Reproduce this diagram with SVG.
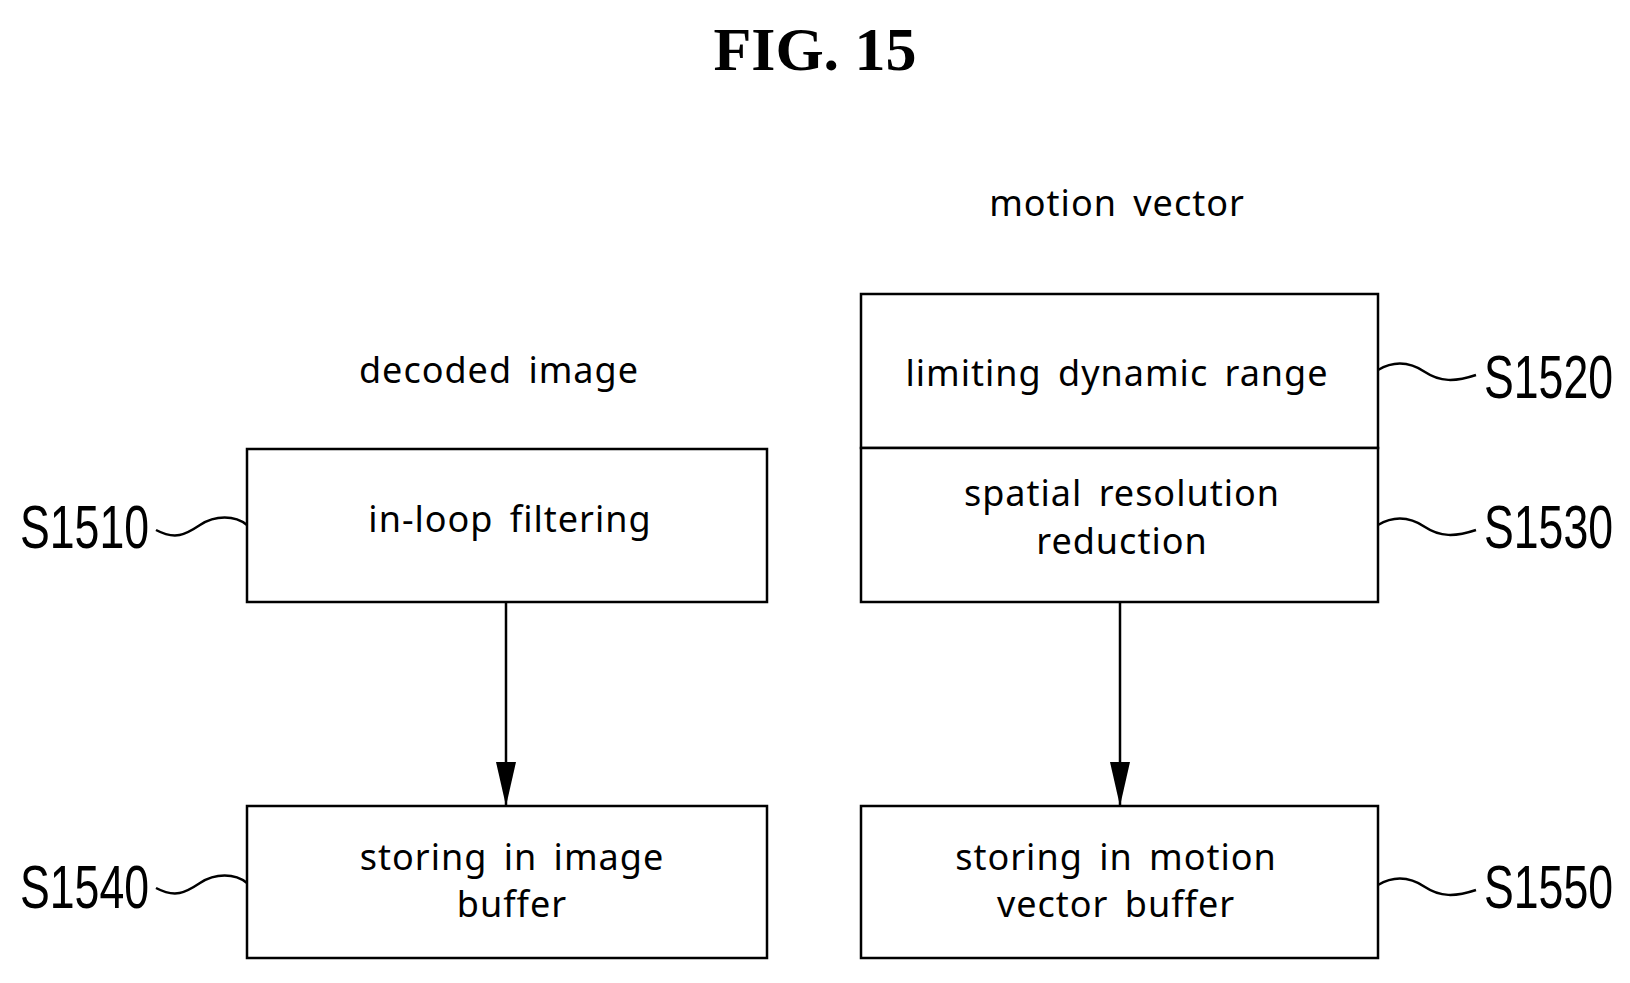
<svg xmlns="http://www.w3.org/2000/svg" width="1630" height="983" viewBox="0 0 1630 983">
<defs>
<style>
.box{fill:#fff;stroke:#000;stroke-width:2.5}
.t{font-family:"Noto Sans","DejaVu Sans",sans-serif;font-size:36px;text-anchor:middle;fill:#000;letter-spacing:1px;word-spacing:6px}
.lab{font-family:"Liberation Sans",Arial,sans-serif;font-size:62px;fill:#000}
.sq{fill:none;stroke:#000;stroke-width:2.5}
.c{stroke:#000;stroke-width:2.5;fill:none}
</style>
<marker id="ah" viewBox="0 0 20 40" refX="10" refY="40" markerWidth="20" markerHeight="40" markerUnits="userSpaceOnUse" orient="auto-start-reverse">
<path d="M0,0 L20,0 L10,40 Z" fill="#000"/>
</marker>
</defs>
<rect width="1630" height="983" fill="#fff"/>
<text x="815" y="70" font-family="Liberation Serif,serif" font-weight="bold" font-size="62" text-anchor="middle">FIG. 15</text>
<text class="t" x="1117" y="216">motion vector</text>
<text class="t" x="499" y="383">decoded image</text>
<g id="connectors">
<path class="c" d="M506,602 V806" transform="translate(0,0)"/>
<path d="M496,762 L516,762 L506,806 Z"/>
<path class="c" d="M1120,602 V806"/>
<path d="M1110,762 L1130,762 L1120,806 Z"/>
</g>
<g id="s1510">
<rect class="box" x="247" y="449" width="520" height="153"/>
<text class="t" x="510" y="532">in-loop filtering</text>
<text class="lab" transform="translate(20,548) scale(0.72,1)">S1510</text>
<path class="sq" d="M156,530 C175,540 185,535 200,525 C215,515 235,515 247,525"/>
</g>
<g id="s1520">
<rect class="box" x="861" y="294" width="517" height="154"/>
<text class="t" x="1117" y="386">limiting dynamic range</text>
<text class="lab" transform="translate(1484,398) scale(0.72,1)">S1520</text>
<path class="sq" d="M1378,370 C1395,360 1410,362 1425,372 C1440,382 1455,382 1476,375"/>
</g>
<g id="s1530">
<rect class="box" x="861" y="448" width="517" height="154"/>
<text class="t" x="1122" y="506">spatial resolution</text>
<text class="t" x="1122" y="554">reduction</text>
<text class="lab" transform="translate(1484,548) scale(0.72,1)">S1530</text>
<path class="sq" d="M1378,525 C1395,515 1410,517 1425,527 C1440,537 1455,537 1476,530"/>
</g>
<g id="s1540">
<rect class="box" x="247" y="806" width="520" height="152"/>
<text class="t" x="512" y="870">storing in image</text>
<text class="t" x="512" y="917">buffer</text>
<text class="lab" transform="translate(20,908) scale(0.72,1)">S1540</text>
<path class="sq" d="M156,888 C175,898 185,893 200,883 C215,873 235,873 247,883"/>
</g>
<g id="s1550">
<rect class="box" x="861" y="806" width="517" height="152"/>
<text class="t" x="1116" y="870">storing in motion</text>
<text class="t" x="1116" y="917">vector buffer</text>
<text class="lab" transform="translate(1484,908) scale(0.72,1)">S1550</text>
<path class="sq" d="M1378,885 C1395,875 1410,877 1425,887 C1440,897 1455,897 1476,890"/>
</g>
</svg>
